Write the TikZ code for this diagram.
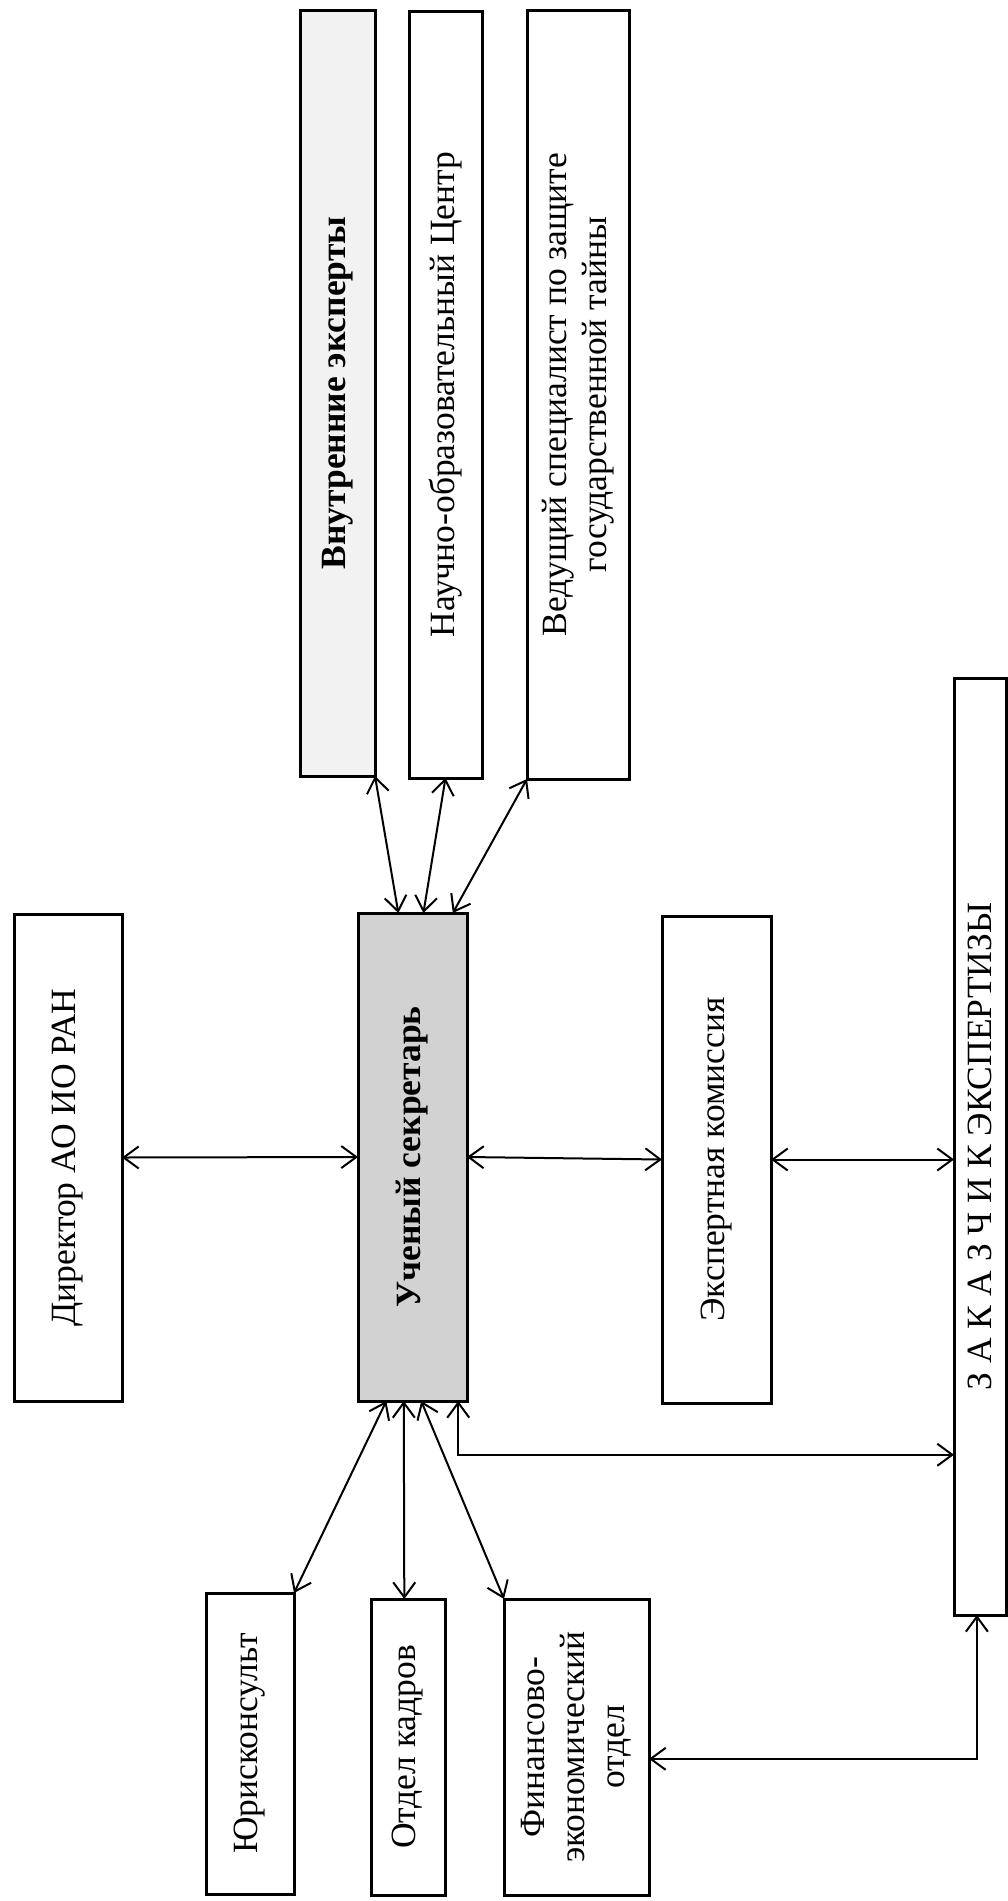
\documentclass[tikz,border=0pt]{standalone}
\usepackage{fontspec}
\setmainfont{Liberation Serif}
\usetikzlibrary{arrows.meta, calc, positioning}
\tikzset{> = { Straight Barb[length = 15pt, width = 22pt] }}

\begin{document}
\begin{tikzpicture}[x = 1pt, y = -1pt, line width = 2pt,
		unit/.style = { draw, line width = 3pt, rotate = 90, inner sep = 0pt, outer sep = 0pt, align = center,
			font = \fontsize{35.5}{40}\selectfont },
		link/.style = { <-> }]
		\useasboundingbox (0,0) rectangle (1008,1901);

		% top row
		\node [unit, fill = gray!10, font = \fontsize{35.5}{40}\selectfont\bfseries,
			minimum width = 766pt, minimum height = 75pt]  (vn)  at (337.5,393)  {Внутренние эксперты};
		\node [unit, minimum width = 767pt, minimum height = 73pt]  (nc)  at (445.5,394.5) {Научно-образовательный Центр};
		\node [unit, minimum width = 769pt, minimum height = 102pt] (vs)  at (578,394.5)   {Ведущий специалист по защите\\государственной тайны};

		% middle row
		\node [unit, minimum width = 487pt, minimum height = 108pt] (dir) at (68,1157.5)   {Директор АО ИО РАН};
		\node [unit, fill = gray!35, font = \fontsize{35.5}{40}\selectfont\bfseries,
			minimum width = 488pt, minimum height = 109pt]  (sek) at (412.5,1157)  {Ученый секретарь};
		\node [unit, minimum width = 487pt, minimum height = 109pt] (kom) at (716.5,1159.5) {Экспертная комиссия};
		\node [unit, minimum width = 937pt, minimum height = 52pt]  (zak) at (980,1146.5)   {З А К А З Ч И К ЭКСПЕРТИЗЫ};

		% bottom row
		\node [unit, minimum width = 301pt, minimum height = 88pt]  (yur) at (250,1743.5)  {Юрисконсульт};
		\node [unit, minimum width = 296pt, minimum height = 74pt]  (kad) at (408,1747)    {Отдел кадров};
		\node [unit, minimum width = 296pt, minimum height = 145pt] (fin) at (576.5,1747)  {Финансово-\\экономический\\отдел};

		\draw [link] (dir.south) -- (sek.north);
		\draw [link] (sek.south) -- (kom.north);
		\draw [link] (kom.south) -- (kom.south -| zak.north);

		\draw [link] (vn.south west) -- ($(sek.north east)!0.37!(sek.south east)$);
		\draw [link] (nc.west)       -- ($(sek.north east)!0.6!(sek.south east)$);
		\draw [link] (vs.north west) -- ($(sek.north east)!0.87!(sek.south east)$);

		\draw [link] ($(sek.north west)!0.26!(sek.south west)$) -- (yur.south east);
		\draw [link] ($(sek.north west)!0.42!(sek.south west)$) -- ($(kad.north east)!0.45!(kad.south east)$);
		\draw [link] ($(sek.north west)!0.58!(sek.south west)$) -- (fin.north east);

		\draw [link] ($(sek.north west)!0.92!(sek.south west)$) |- ($(zak.north west)!0.171!(zak.north east)$);
		\draw [link] ($(fin.south west)!0.46!(fin.south east)$) -| ($(zak.north west)!0.44!(zak.south west)$);
	\end{tikzpicture}
\end{document}
